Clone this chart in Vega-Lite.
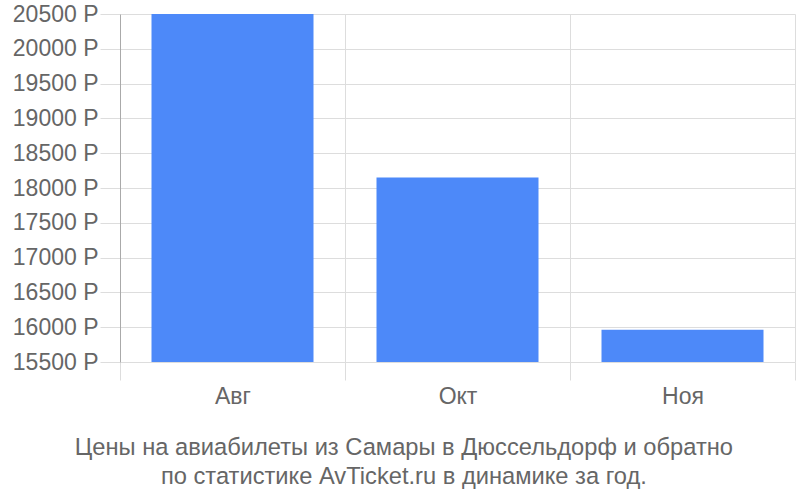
{
  "$schema": "https://vega.github.io/schema/vega-lite/v6.json",
  "width": 675,
  "height": 348,
  "autosize": {"type": "none"},
  "padding": {"left": 120, "top": 14, "right": 5, "bottom": 138},
  "background": "white",
  "config": {
    "view": {"stroke": null},
    "font": "Liberation Sans",
    "axis": {
      "labelColor": "#666666",
      "labelFont": "Liberation Sans",
      "gridColor": "#dddddd",
      "tickColor": "#dddddd"
    }
  },
  "title": {
    "text": [
      "Цены на авиабилеты из Самары в Дюссельдорф и обратно",
      "по статистике AvTicket.ru в динамике за год."
    ],
    "orient": "bottom",
    "anchor": "middle",
    "frame": "bounds",
    "fontSize": 23.7,
    "fontWeight": "normal",
    "color": "#666666",
    "lineHeight": 29,
    "offset": 28
  },
  "data": {
    "values": [
      {"month": "Авг", "price": 20500},
      {"month": "Окт", "price": 18150},
      {"month": "Ноя", "price": 15965}
    ]
  },
  "mark": {"type": "bar", "color": "#4d89f9", "width": {"band": 0.72}, "clip": true},
  "encoding": {
    "x": {
      "field": "month",
      "type": "nominal",
      "sort": null,
      "title": null,
      "scale": {"paddingInner": 0, "paddingOuter": 0},
      "axis": {
        "labelAngle": 0,
        "labelFontSize": 23,
        "labelPadding": 5,
        "domain": false,
        "grid": true,
        "tickBand": "extent",
        "tickSize": 18
      }
    },
    "y": {
      "field": "price",
      "type": "quantitative",
      "title": null,
      "scale": {"domain": [15500, 20500], "nice": false, "zero": false},
      "axis": {
        "values": [15500, 16000, 16500, 17000, 17500, 18000, 18500, 19000, 19500, 20000, 20500],
        "labelExpr": "datum.value + ' Р'",
        "labelFontSize": 23,
        "labelPadding": 2,
        "tickSize": 20,
        "domainColor": "#aaaaaa",
        "grid": true
      }
    }
  }
}
